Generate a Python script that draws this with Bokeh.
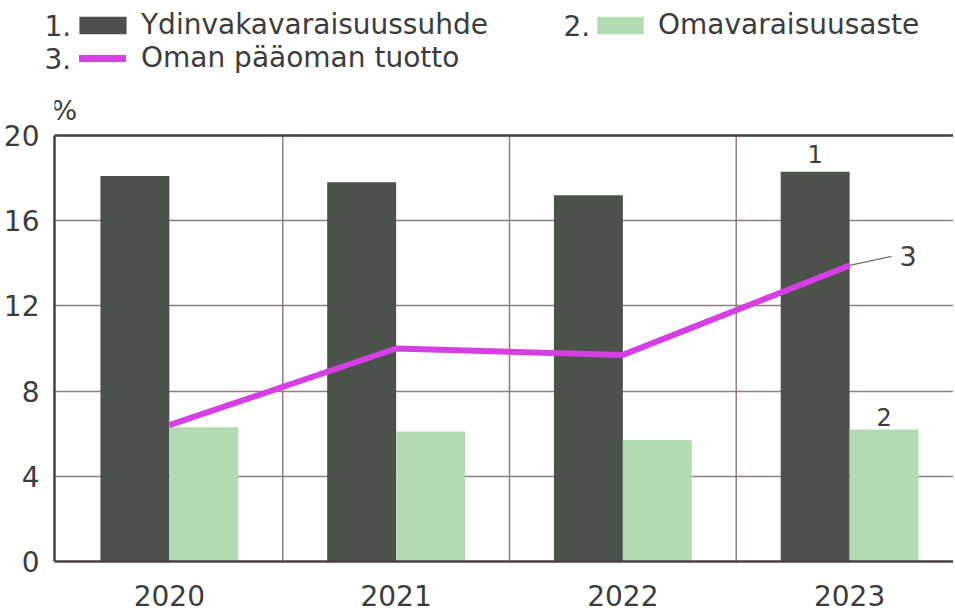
from bokeh.plotting import figure
from bokeh.layouts import column
from bokeh.models import (Range1d, FixedTicker, Label, Legend, LegendItem, Span,
                          Arrow, ColumnDataSource)
from bokeh.transform import dodge
from bokeh.embed import file_html
from bokeh.resources import INLINE

# ---- data ----
years = ["2020", "2021", "2022", "2023"]
ydinvaka = [18.1, 17.8, 17.2, 18.3]       # 1. Ydinvakavaraisuussuhde
omavarais = [6.3, 6.1, 5.7, 6.2]          # 2. Omavaraisuusaste
roe = [6.4, 10.0, 9.7, 13.9]              # 3. Oman pääoman tuotto
y_ticks = [0, 4, 8, 12, 16, 20]
legend_names = ["Ydinvakavaraisuussuhde", "Omavaraisuusaste", "Oman pääoman tuotto"]
legend_nums = ["1.", "2.", "3."]

FONT = "DejaVu Sans"
TXT = "#3c3c3c"
DARK = "#4b5249"
LIGHT = "#b3dbb3"
MAGENTA = "#d63fe3"
AXIS = "#4a4242"
GRID = "#8f7f7f"

W_TOTAL = 953
HDR_H = 94
CH_H = 517
PX_PER_UNIT = 426 / (y_ticks[-1] - y_ticks[0])   # chart pixels per % unit
TOP_PAD_PX = 41                                     # room above the 20 line
PX_PER_CAT = 227

idx = list(range(len(years)))
W = 69 / PX_PER_CAT
src = ColumnDataSource(dict(x=idx, ydin=ydinvaka, oma=omavarais, roe=roe))

# ---------------- header (legend) ----------------
hdr = figure(width=W_TOTAL, height=HDR_H, x_range=Range1d(0, W_TOTAL),
             y_range=Range1d(HDR_H, 0), output_backend="svg", toolbar_location=None,
             min_border=0, title=None, x_axis_location=None, y_axis_location=None)
hdr.frame_align = False
hdr.grid.visible = False
hdr.outline_line_color = None
hdr.background_fill_color = "white"
hdr.border_fill_color = "white"
nan = float("nan")
dummy = ColumnDataSource(dict(x=[nan], y=[nan]))
d1 = hdr.vbar(x="x", top="y", width=1, source=dummy, fill_color=DARK, line_color=None)
d2 = hdr.vbar(x="x", top="y", width=1, source=dummy, fill_color=LIGHT, line_color=None)
d3 = hdr.line(x="x", y="y", source=dummy, line_color=MAGENTA, line_width=7,
              line_cap="round")

# (renderer, label, glyph_width, glyph_height, standoff, location)
leg_specs = [
    (d1, legend_names[0], 59, 22, 9, (73, 53)),
    (d2, legend_names[1], 58, 22, 9, (591, 53)),
    (d3, legend_names[2], 47, 18, 15, (79, 20)),
]
for rend, name, gw, gh, so, loc in leg_specs:
    lg = Legend(items=[LegendItem(label=name, renderers=[rend])], location=loc,
                orientation="vertical")
    lg.padding = 0
    lg.margin = 0
    lg.spacing = 0
    lg.border_line_color = None
    lg.background_fill_alpha = 0
    lg.glyph_width = gw
    lg.glyph_height = gh
    lg.label_standoff = so
    lg.label_text_font = FONT
    lg.label_text_font_size = "28px"
    lg.label_text_color = TXT
    hdr.add_layout(lg, "center")

for txt, lx, ly in zip(legend_nums, [44, 563, 44], [24.5, 24.5, 57.5]):
    hdr.add_layout(Label(x=lx, y=ly, text=txt, text_font=FONT,
                         text_font_size="28px", text_color=TXT,
                         text_baseline="middle"))

# ---------------- chart ----------------
x_start = -115 / PX_PER_CAT
x_end = x_start + (W_TOTAL - 53) / PX_PER_CAT
p = figure(width=W_TOTAL, height=CH_H, x_range=Range1d(x_start, x_end),
           y_range=Range1d(y_ticks[0], y_ticks[-1] + TOP_PAD_PX / PX_PER_UNIT),
           output_backend="svg", toolbar_location=None, min_border_left=53,
           min_border_right=0, min_border_top=0, min_border_bottom=50, title=None)
p.frame_align = False
p.background_fill_color = "white"
p.border_fill_color = "white"
p.outline_line_color = None

# vertical separators between years (only over the 0..20 band)
seps = [i + 0.5 for i in idx[:-1]]
p.segment(x0=seps, x1=seps, y0=[y_ticks[0]] * len(seps), y1=[y_ticks[-1]] * len(seps),
          line_color=GRID, line_width=1.5)

r1 = p.vbar(x=dodge("x", -W / 2), top="ydin", width=W, source=src,
            fill_color=DARK, line_color=None)
r2 = p.vbar(x=dodge("x", W / 2), top="oma", width=W, source=src,
            fill_color=LIGHT, line_color=None)
r3 = p.line("x", "roe", source=src, line_color=MAGENTA, line_width=6)

p.xaxis.ticker = FixedTicker(ticks=idx)
p.xaxis.major_label_overrides = {i: y for i, y in zip(idx, years)}
p.yaxis.ticker = FixedTicker(ticks=y_ticks)
p.yaxis.bounds = (y_ticks[0], y_ticks[-1])
for ax in (p.xaxis, p.yaxis):
    ax.major_tick_line_color = None
    ax.minor_tick_line_color = None
    ax.axis_line_color = AXIS
    ax.axis_line_width = 2.5
    ax.major_label_text_font = FONT
    ax.major_label_text_font_size = "28px"
    ax.major_label_text_color = TXT
p.xaxis.major_label_standoff = 17
p.yaxis.major_label_standoff = 9

p.xgrid.visible = False
p.ygrid.grid_line_color = GRID
p.ygrid.grid_line_width = 1.5
p.add_layout(Span(location=y_ticks[-1], dimension="width", line_color=AXIS,
                  line_width=2.5))

# "%" unit above the axis
p.add_layout(Label(x=x_start, x_offset=-3, y=y_ticks[-1] + 25 / PX_PER_UNIT, text="%",
                   text_font=FONT, text_font_size="27px", text_color=TXT,
                   text_baseline="middle", text_align="left"))

# series labels at the last year
last = idx[-1]
p.add_layout(Label(x=last - W / 2, y=ydinvaka[-1] + 17.5 / PX_PER_UNIT, text="1",
                   text_font=FONT, text_font_size="24px", text_color=TXT,
                   text_align="center", text_baseline="middle"))
p.add_layout(Label(x=last + W / 2, y=omavarais[-1] + 12.5 / PX_PER_UNIT, text="2",
                   text_font=FONT, text_font_size="24px", text_color=TXT,
                   text_align="center", text_baseline="middle"))
p.add_layout(Arrow(end=None, x_start=last, y_start=roe[-1], x_end=last + 42 / PX_PER_CAT,
                   y_end=roe[-1] + 9 / PX_PER_UNIT, line_color="#707070",
                   line_width=1.3))
p.add_layout(Label(x=last + 50 / PX_PER_CAT, y=roe[-1] + 9 / PX_PER_UNIT, text="3",
                   text_font=FONT, text_font_size="27px", text_color=TXT,
                   text_align="left", text_baseline="middle"))

layout = column(hdr, p, spacing=0)
open("out.html", "w").write(file_html(layout, INLINE))
